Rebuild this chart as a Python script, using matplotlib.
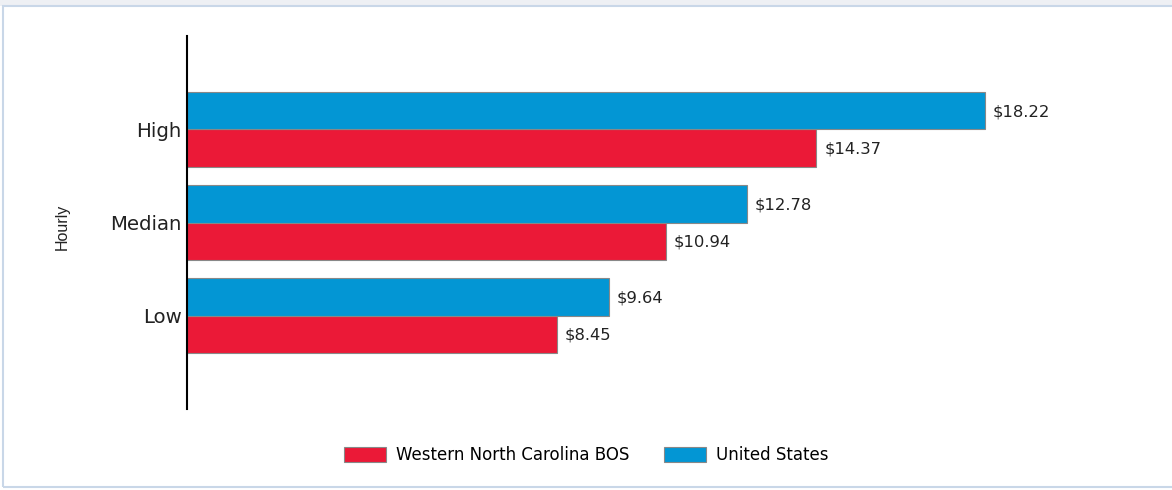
import matplotlib.pyplot as plt
from matplotlib.patches import Rectangle
import numpy as np

plt.rcParams['font.family'] = ['DejaVu Sans']

categories = ['Low', 'Median', 'High']
wnc = [8.45, 10.94, 14.37]
us = [9.64, 12.78, 18.22]
series_names = ['Western North Carolina BOS', 'United States']
red = '#EB1937'
blue = '#0396D4'

W, H = 1172, 490
fig = plt.figure(figsize=(W / 100, H / 100), dpi=100)

# window chrome: grey strip on top and a light frame
fig.patches.append(Rectangle((0, 1 - 6 / H), 1, 6 / H, transform=fig.transFigure,
                             facecolor='#eef0f4', edgecolor='none', zorder=0))
fig.patches.append(Rectangle((3 / W, 3 / H), 1.2, 1 - 9 / H, transform=fig.transFigure,
                             facecolor='none', edgecolor='#c9d7e8', linewidth=1.5, zorder=0))

left, right = 187, 1150
top, bottom = 36, 409
ax = fig.add_axes([left / W, 1 - bottom / H, (right - left) / W, (bottom - top) / H])

y = np.arange(len(categories))
h = 0.4
b1 = ax.barh(y - h / 2, wnc, height=h, color=red, edgecolor='#888888', linewidth=0.8,
             label=series_names[0])
b2 = ax.barh(y + h / 2, us, height=h, color=blue, edgecolor='#888888', linewidth=0.8,
             label=series_names[1])

for bars, vals in ((b1, wnc), (b2, us)):
    for r, v in zip(bars, vals):
        ax.text(v + 0.18, r.get_y() + r.get_height() / 2 - 0.01, '$%.2f' % v,
                va='center', ha='left', fontsize=11.8, color='#222222')

ax.set_xlim(0, (right - left) / 43.8)
ax.set_ylim(-1, 3)
ax.set_yticks(y)
ax.set_yticklabels(categories, fontsize=14.2, color='#222222')
ax.set_xticks([])
ax.tick_params(axis='y', length=0, pad=4)
for s in ['top', 'right', 'bottom']:
    ax.spines[s].set_visible(False)
ax.spines['left'].set_linewidth(1.5)
ax.spines['left'].set_color('black')

fig.text(62 / W, 1 - 227 / H, 'Hourly', rotation=90, ha='center', va='center',
         fontsize=11.5, color='#222222', family='Liberation Sans')

fig.legend(handles=[b1, b2], loc='center', bbox_to_anchor=(586 / W, 1 - 455 / H),
           ncol=2, frameon=False, fontsize=12, handlelength=2.5, handleheight=1.0,
           columnspacing=2.1, handletextpad=0.6)

fig.savefig('out.png', dpi=100, facecolor='white')
